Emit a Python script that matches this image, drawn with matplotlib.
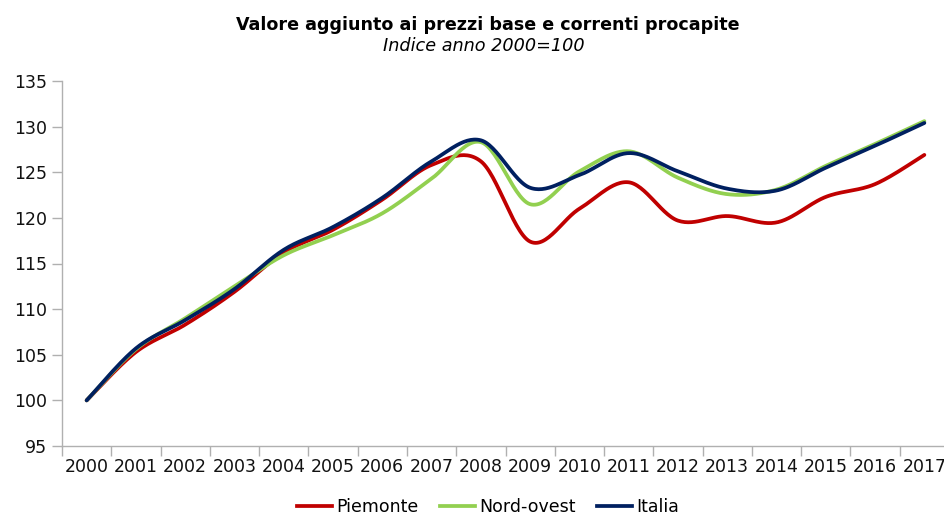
import numpy as np
import matplotlib
matplotlib.use("Agg")
import matplotlib.pyplot as plt
from matplotlib.lines import Line2D

# data (index 2000 = 100)
years = [str(y) for y in range(2000, 2018)]
piemonte = [100, 105.3, 108.3, 111.9, 116.2, 118.7, 122.0, 125.8, 126.2, 117.4,
            121.0, 123.9, 119.7, 120.2, 119.5, 122.3, 123.7, 126.9]
nord_ovest = [100, 105.6, 109.0, 112.5, 115.9, 118.1, 120.5, 124.3, 128.3, 121.5,
              125.1, 127.3, 124.4, 122.6, 123.1, 125.7, 128.1, 130.6]
italia = [100, 105.7, 108.8, 112.2, 116.5, 119.0, 122.2, 126.2, 128.5, 123.3,
          124.7, 127.1, 125.1, 123.2, 123.0, 125.5, 127.9, 130.4]

colors = {"Piemonte": "#C00000", "Nord-ovest": "#92D050", "Italia": "#002060"}


def smooth(x, y, n=30):
    # excel-like smoothed line (bezier with catmull-rom control points)
    x = np.asarray(x, float)
    y = np.asarray(y, float)
    px = np.concatenate([[x[0]], x, [x[-1]]])
    py = np.concatenate([[y[0]], y, [y[-1]]])
    t = np.linspace(0, 1, n)[:, None]
    xs, ys = [], []
    for i in range(len(x) - 1):
        p0x, p1x, p2x, p3x = px[i], px[i + 1], px[i + 2], px[i + 3]
        p0y, p1y, p2y, p3y = py[i], py[i + 1], py[i + 2], py[i + 3]
        b1x, b1y = p1x + (p2x - p0x) / 6, p1y + (p2y - p0y) / 6
        b2x, b2y = p2x - (p3x - p1x) / 6, p2y - (p3y - p1y) / 6
        bx = (1 - t) ** 3 * p1x + 3 * (1 - t) ** 2 * t * b1x + 3 * (1 - t) * t ** 2 * b2x + t ** 3 * p2x
        by = (1 - t) ** 3 * p1y + 3 * (1 - t) ** 2 * t * b1y + 3 * (1 - t) * t ** 2 * b2y + t ** 3 * p2y
        xs.append(bx.ravel())
        ys.append(by.ravel())
    return np.concatenate(xs), np.concatenate(ys)


fig = plt.figure(figsize=(9.44, 5.15), dpi=100)
ax = fig.add_axes([62 / 944, 69 / 515, 887 / 944, 365 / 515])

x = np.arange(len(years))
for name, vals in [("Piemonte", piemonte), ("Nord-ovest", nord_ovest), ("Italia", italia)]:
    sx, sy = smooth(x, vals)
    ax.plot(sx, sy, color=colors[name], lw=2.7, solid_capstyle="round", label=name)

ax.set_xlim(-0.5, len(years) - 0.5)
ax.set_ylim(95, 135)
ax.set_yticks(range(95, 136, 5))
ax.set_xticks(x)
ax.set_xticklabels(years)
ax.set_xticks(np.arange(-0.5, len(years), 1), minor=True)
ax.tick_params(axis="x", which="major", length=0, pad=9, labelsize=12.5, colors="#111111")
ax.tick_params(axis="x", which="minor", length=7, color="#B0B0B0", width=1)
ax.tick_params(axis="y", length=7, color="#B0B0B0", width=1, labelsize=12.5, pad=4, labelcolor="#111111")
for s in ["top", "right"]:
    ax.spines[s].set_visible(False)
for s in ["left", "bottom"]:
    ax.spines[s].set_color("#B0B0B0")
    ax.spines[s].set_linewidth(1)

fig.text(488 / 944, 1 - 25 / 515, "Valore aggiunto ai prezzi base e correnti procapite",
         ha="center", va="center", fontsize=12.6, fontweight="bold")
fig.text(484 / 944, 1 - 46 / 515, "Indice anno 2000=100",
         ha="center", va="center", fontsize=12.7, style="italic")

handles = [Line2D([], [], color=colors[n], lw=2.7) for n in colors]
fig.legend(handles, list(colors), loc="center", bbox_to_anchor=(488 / 944, 1 - 507 / 515),
           ncol=3, frameon=False, fontsize=12.5, handlelength=2.0, handletextpad=0.25,
           columnspacing=1.25)

fig.savefig("out.png", dpi=100)
